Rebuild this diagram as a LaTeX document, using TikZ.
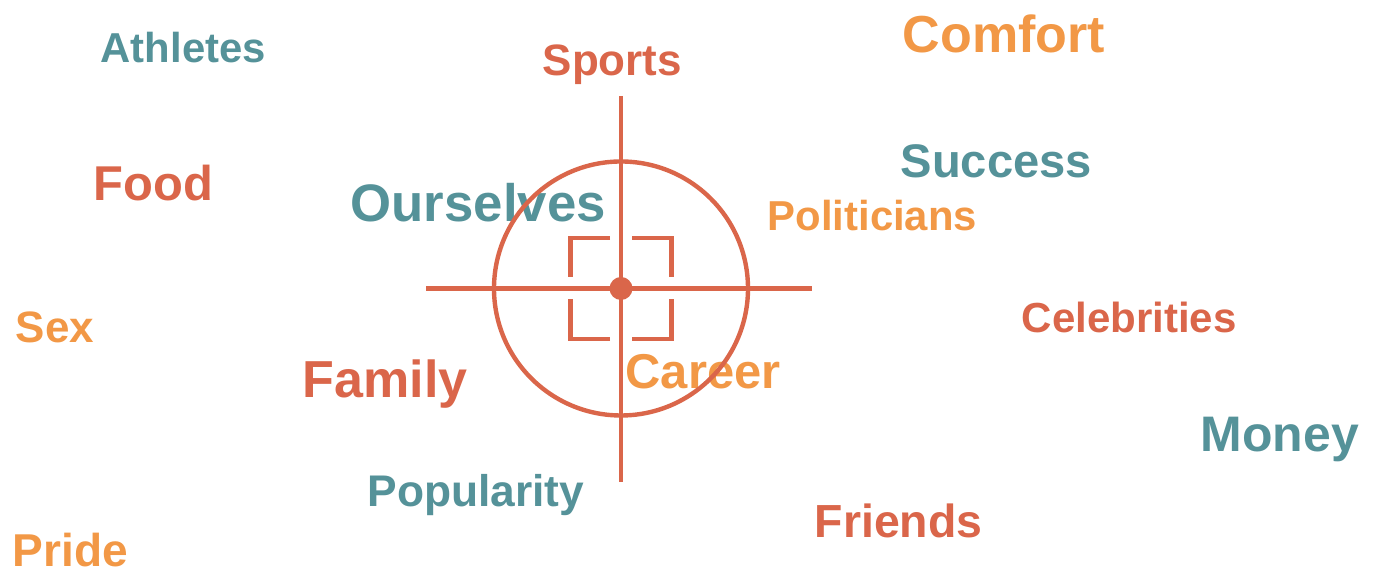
\documentclass[tikz,border=0pt]{standalone}
\usepackage{fontspec}
\setmainfont{Liberation Sans}
\usetikzlibrary{calc}
\definecolor{wteal}{RGB}{85,146,153}
\definecolor{wred}{RGB}{218,102,74}
\definecolor{wora}{RGB}{242,152,70}
\newcommand{\wsize}[1]{\fontsize{#1}{#1}\selectfont\bfseries}
\tikzset{
  word/.style={anchor=base west,inner sep=0pt},
  aim/.style={draw=wred,line width=1.25pt}
}
\begin{document}
\begin{tikzpicture}[x=0.01cm,y=-0.01cm]
  \useasboundingbox (0,0) rectangle (1375,571);
  % words
  \node[word,wteal,font=\wsize{11.9}](athletes) at (100,63) {Athletes};
  \node[word,wred,font=\wsize{12.5}](sports) at (542,76) {Sports};
  \node[word,wora,font=\wsize{14.8}](comfort) at (902,53) {Comfort};
  \node[word,wteal,font=\wsize{13.4}](success) at (900,178) {Success};
  \node[word,wred,font=\wsize{13.9}](food) at (93,201) {Food};
  \node[word,wteal,font=\wsize{15.0}](ourselves) at (350,222) {Ourselves};
  \node[word,wora,font=\wsize{11.9}](politicians) at (767,231) {Politicians};
  \node[word,wora,font=\wsize{12.5}](sex) at (15,343) {Sex};
  \node[word,wred,font=\wsize{11.95}](celebrities) at (1021,333) {Celebrities};
  \node[word,wred,font=\wsize{14.8}](family) at (302,398) {Family};
  \node[word,wora,font=\wsize{13.9}](career) at (625,389) {Career};
  \node[word,wteal,font=\wsize{14.2}](money) at (1200,452) {Money};
  \node[word,wteal,font=\wsize{12.6}](popularity) at (367,507) {Popularity};
  \node[word,wred,font=\wsize{13.2}](friends) at (814,538) {Friends};
  \node[word,wora,font=\wsize{13.1}](pride) at (12,567) {Pride};
  % target
  \coordinate(c) at (621,288.5);
  \draw[aim] (c) circle[radius=127];
  \draw[aim] (621,96) -- (621,482);
  \draw[aim] (426,288.5) -- (812,288.5);
  \foreach \sx/\sy in {1/1,1/-1,-1/1,-1/-1}
    \draw[aim] ($(c)+(-11*\sx,-50.5*\sy)$) -- ($(c)+(-50.5*\sx,-50.5*\sy)$) -- ($(c)+(-50.5*\sx,-11*\sy)$);
  \fill[wred] (c) circle[radius=11.5];
\end{tikzpicture}
\end{document}
